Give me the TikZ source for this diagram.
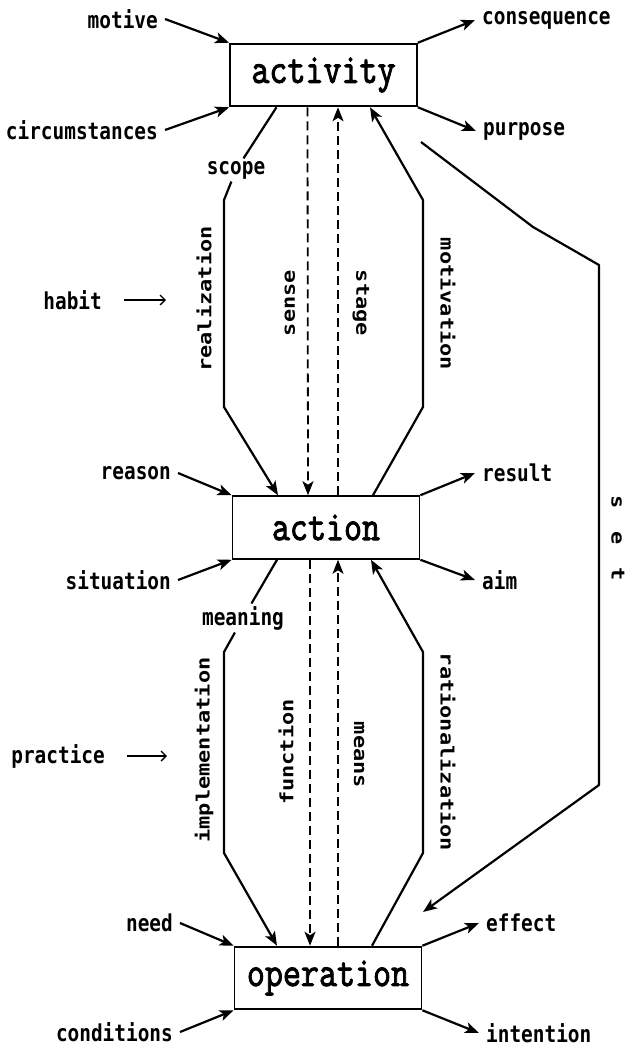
\documentclass[tikz,border=0pt]{standalone}
\usepackage{fontspec}
\newfontfamily\lblfont{DejaVu Sans Mono}
\newfontfamily\boxfont{Latin Modern Mono}[FakeBold=2.5]
\usetikzlibrary{arrows.meta}
\tikzset{level/.style={draw, line width=1.8pt, minimum width=187pt,
      minimum height=52pt, inner sep=0pt, yscale=1.2,
      font=\boxfont\fontsize{35}{35}\selectfont}}
\tikzset{lbl/.style={inner xsep=7pt, inner ysep=2pt, yscale=1.2,
      font=\lblfont\bfseries\fontsize{19.4}{19.4}\selectfont}}
\tikzset{up/.style={inner xsep=2pt, inner ysep=2pt, rotate=90, xscale=1.2,
      font=\lblfont\bfseries\fontsize{18.3}{18.3}\selectfont}}
\tikzset{down/.style={up, rotate=180}}
\tikzset{tip/.style={line width=2.2pt, line join=round,
      -{Stealth[length=14pt,width=11pt,inset=3.5pt]}}}
\tikzset{dtip/.style={tip, line width=1.8pt, dash pattern=on 9pt off 5pt}}
\tikzset{hint/.style={line width=1.4pt, -{Straight Barb[length=5pt,width=10pt]}}}

\begin{document}
\begin{tikzpicture}[x=1pt,y=-1pt]
    \useasboundingbox (0,0) rectangle (632,1046);
    \node[level] (act) at (323.5,75) {activity};
    \node[level] (ac) at (326,527.5) {action};
    \node[level] (op) at (328,978) {operation};

    % activity
    \node[lbl,anchor=east] (motive) at (165,19) {motive};
    \node[lbl,anchor=east] (circ) at (165,130) {circumstances};
    \node[lbl,anchor=west] (cons) at (475,20) {consequence};
    \node[lbl,anchor=west] (purp) at (476,131) {purpose};
    \draw[tip] (motive.east) -- (act.north west);
    \draw[tip] (circ.east) -- (act.south west);
    \draw[tip] (act.north east) -- (cons.west);
    \draw[tip] (act.south east) -- (purp.west);

    \node[lbl] (scope) at (236,170) {scope};
    \node[lbl,anchor=east] (habit) at (109,300) {habit};
    \coordinate (habitend) at (166,300);
    \draw[hint] ([xshift=15pt]habit.east) -- (habitend);
    \node[up] (realz) at (204,299) {realization};
    \node[up] (sense) at (290,303) {sense};
    \node[down] (stage) at (361,303) {stage};
    \node[down] (motiv) at (448,304) {motivation};

    \coordinate (rz1) at (224,200);
    \coordinate (rz2) at (224,407);
    \draw[tip, -] ([xshift=-47pt]act.south) -- (scope);
    \draw[tip] (scope) -- (rz1) -- (rz2) -- ([xshift=-48pt]ac.north);
    \draw[dtip] ([xshift=-16pt]act.south) -- ([xshift=-18pt]ac.north);
    \draw[dtip] ([xshift=12pt]ac.north) -- ([xshift=14.5pt]act.south);
    \coordinate (mv1) at (423,200);
    \coordinate (mv2) at (423,407);
    \draw[tip] ([xshift=47pt]ac.north) -- (mv2) -- (mv1) -- ([xshift=46.5pt]act.south);

    % action
    \node[lbl,anchor=east] (reason) at (178,473) {reason};
    \node[lbl,anchor=east] (sit) at (178,580) {situation};
    \node[lbl,anchor=west] (res) at (475,473) {result};
    \node[lbl,anchor=west] (aim) at (475,580) {aim};
    \draw[tip] (reason.east) -- (ac.north west);
    \draw[tip] (sit.east) -- (ac.south west);
    \draw[tip] (ac.north east) -- (res.west);
    \draw[tip] (ac.south east) -- (aim.west);

    \node[lbl] (meaning) at (243,618) {meaning};
    \node[lbl,anchor=east] (practice) at (112,756) {practice};
    \coordinate (practiceend) at (167,756);
    \draw[hint] ([xshift=15pt]practice.east) -- (practiceend);
    \node[up] (implem) at (204,750) {implementation};
    \node[up] (funct) at (286,752) {function};
    \node[down] (means) at (359,755) {means};
    \node[down] (ration) at (448,752) {rationalization};

    \coordinate (im1) at (224,652);
    \coordinate (im2) at (224,853);
    \draw[tip, -] ([xshift=-49pt]ac.south) -- (meaning);
    \draw[tip] (meaning) -- (im1) -- (im2) -- ([xshift=-51pt]op.north);
    \draw[dtip] ([xshift=-16pt]ac.south) -- ([xshift=-18pt]op.north);
    \draw[dtip] ([xshift=10pt]op.north) -- ([xshift=12pt]ac.south);
    \coordinate (ra1) at (423,652);
    \coordinate (ra2) at (423,853);
    \draw[tip] ([xshift=44pt]op.north) -- (ra2) -- (ra1) -- ([xshift=45pt]ac.south);

    % operation
    \node[lbl,anchor=east] (need) at (180,923) {need};
    \node[lbl,anchor=east] (cond) at (180,1032) {conditions};
    \node[lbl,anchor=west] (eff) at (479,923) {effect};
    \node[lbl,anchor=west] (intent) at (479,1033) {intention};
    \draw[tip] (need.east) -- (op.north west);
    \draw[tip] (cond.east) -- (op.south west);
    \draw[tip] (op.north east) -- (eff.west);
    \draw[tip] (op.south east) -- (intent.west);

    % set
    \node[down] (set) at (618,538) {s\hspace{19pt}e\hspace{19pt}t};
    \coordinate (st0) at (421,142);
    \coordinate (st1) at (533,227);
    \coordinate (st2) at (599,265);
    \coordinate (st3) at (599,785);
    \coordinate (st4) at (423,912);
    \draw[tip] (st0) -- (st1) -- (st2) -- (st3) -- (st4);
\end{tikzpicture}
\end{document}
